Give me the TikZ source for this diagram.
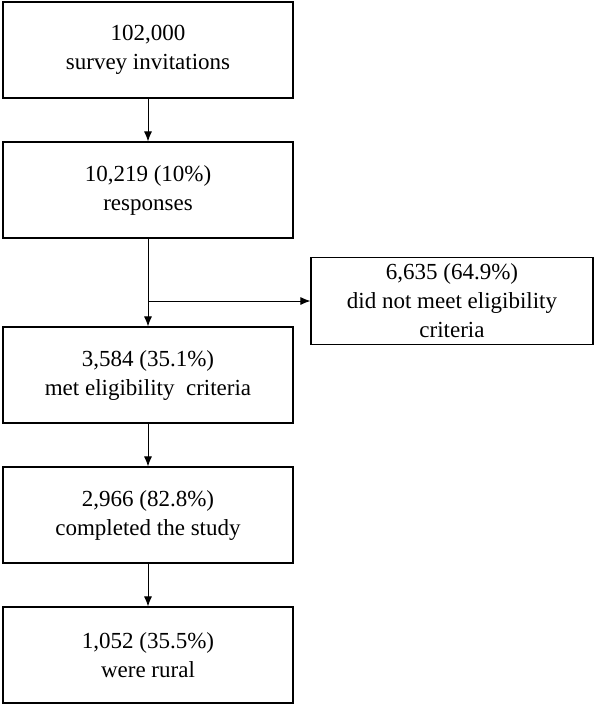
\documentclass[tikz,border=0pt]{standalone}
\usepackage{fontspec}
\setmainfont{Liberation Serif}
\usetikzlibrary{positioning,arrows.meta}

\begin{document}
\begin{tikzpicture}[x=1pt,y=-1pt,
  flowbox/.style={draw,line width=1.2pt,minimum width=290pt,minimum height=96pt,
    align=center,font=\fontsize{23}{29}\selectfont,inner sep=2pt},
  sidebox/.style={flowbox,minimum width=282pt,minimum height=87pt},
  flowarrow/.style={-{Latex[length=10pt,width=8pt]},line width=0.9pt}]
  \useasboundingbox (0,0) rectangle (601,728);

  \node[flowbox] (invite) at (148,50) {102,000\\survey invitations};
  \node[flowbox] (respond) at (148,190) {10,219 (10\%)\\responses};
  \node[flowbox] (eligible) at (148,375) {3,584 (35.1\%)\\met eligibility\ \ criteria};
  \node[flowbox] (complete) at (148,515) {2,966 (82.8\%)\\completed the study};
  \node[flowbox] (rural) at (148,655) {1,052 (35.5\%)\\were rural};
  \node[sidebox] (excluded) at (452,301) {6,635 (64.9\%)\\did not meet eligibility\\criteria};

  \coordinate (branch) at (respond.south |- excluded.west);

  \draw[flowarrow] (invite) -- (respond);
  \draw[flowarrow] (respond) -- (eligible);
  \draw[flowarrow] (branch) -- (excluded.west);
  \draw[flowarrow] (eligible) -- (complete);
  \draw[flowarrow] (complete) -- (rural);
\end{tikzpicture}
\end{document}
